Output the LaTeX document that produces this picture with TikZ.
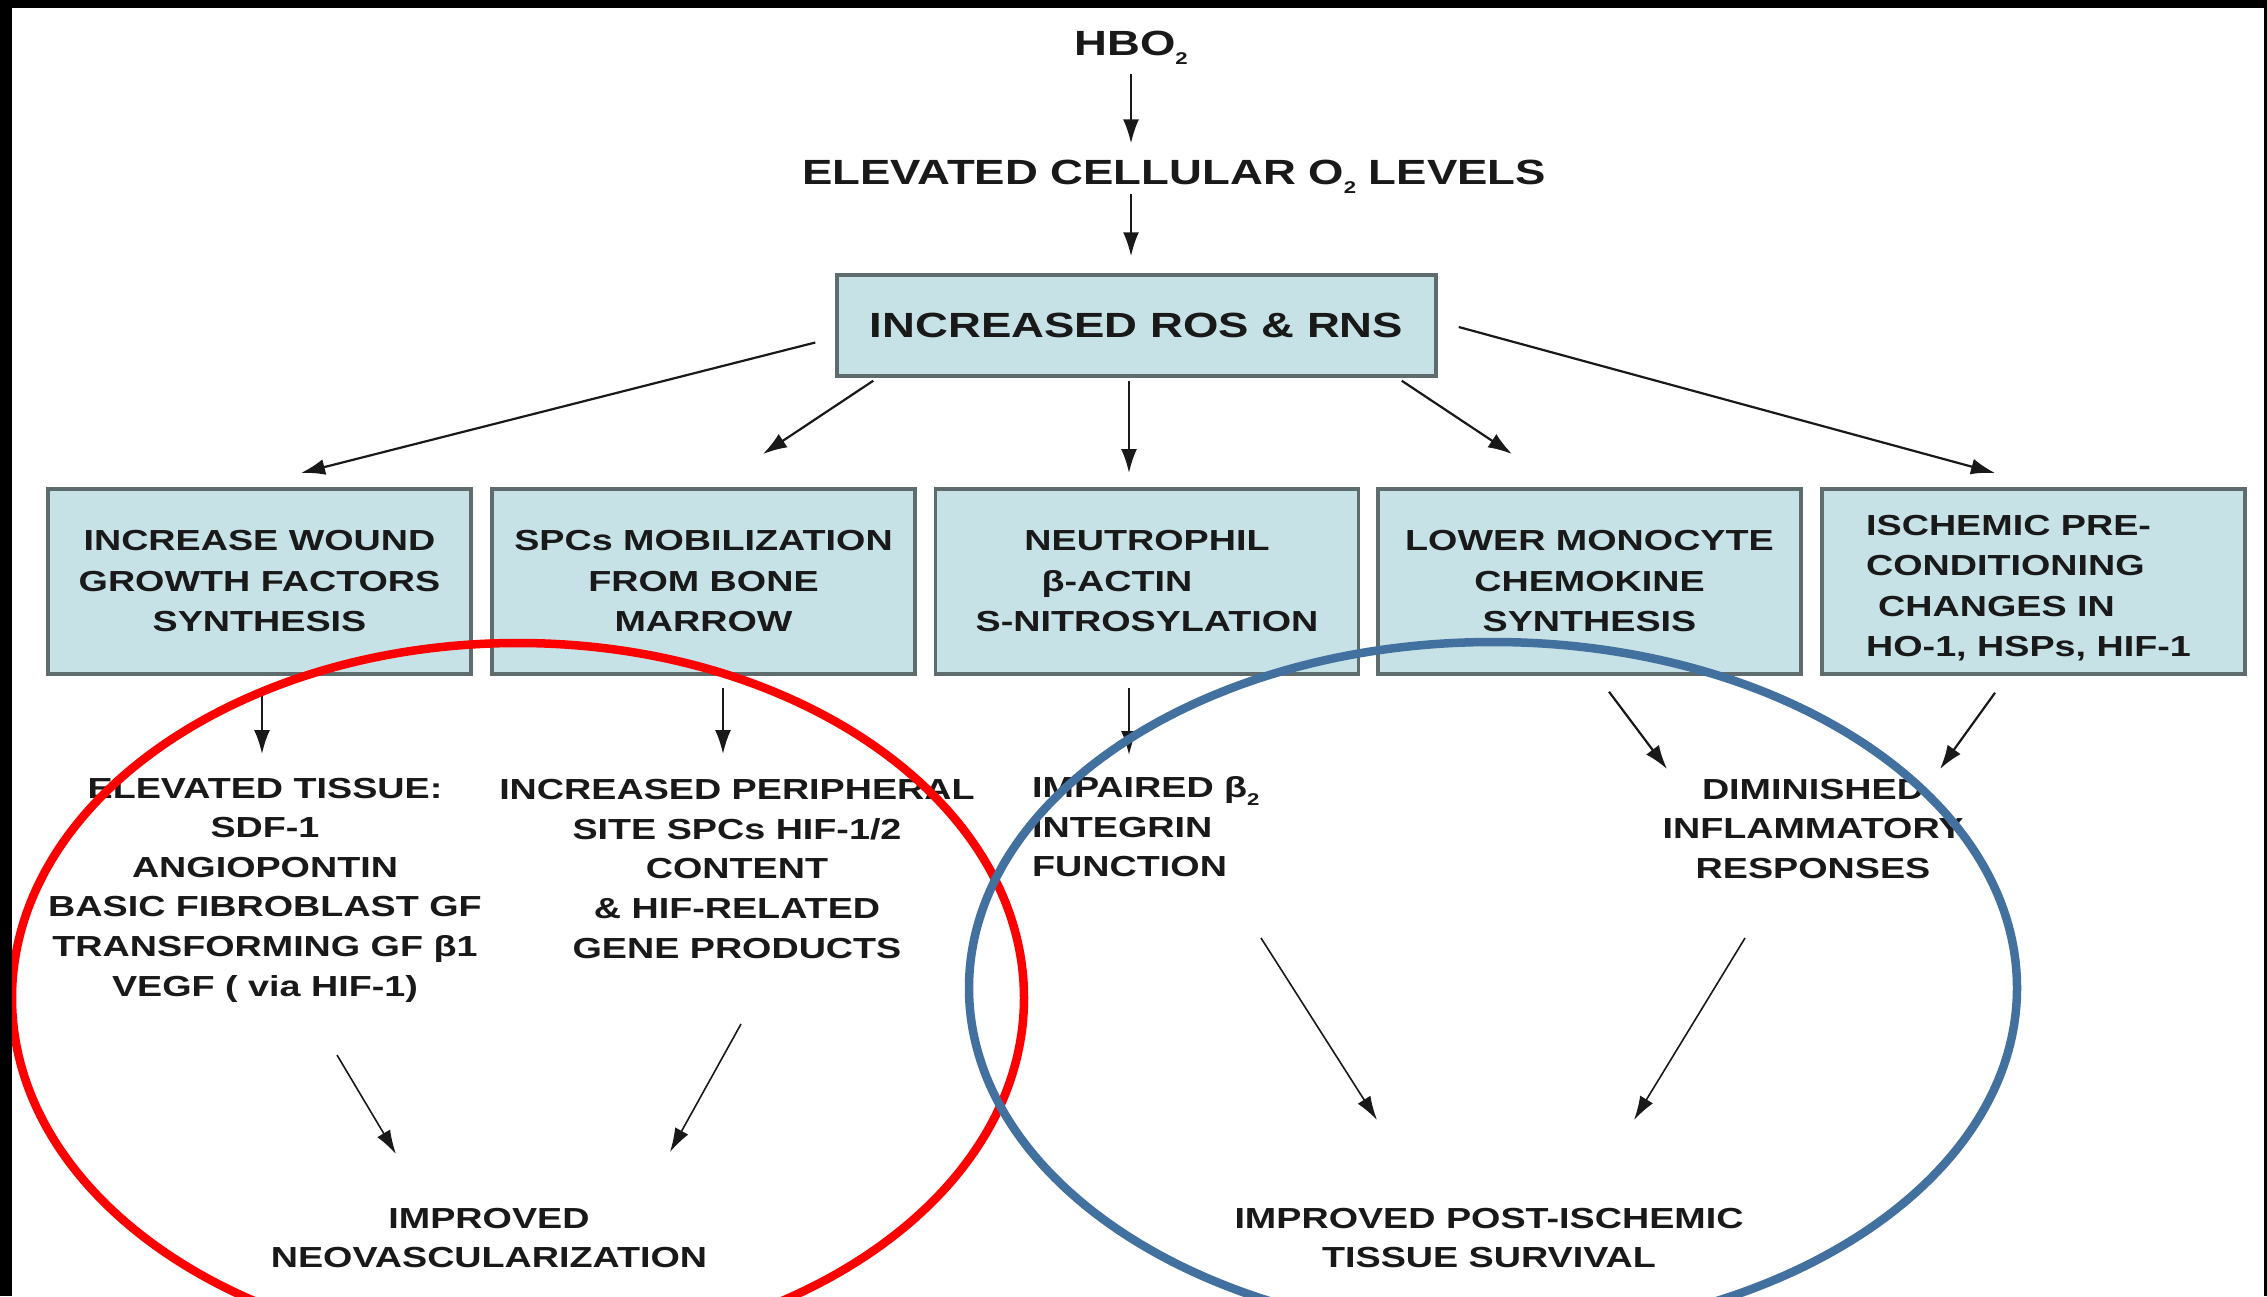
\documentclass[tikz,border=0pt]{standalone}
\usepackage{fontspec}
\setmainfont{Liberation Sans}[FakeStretch=1.3]
\usetikzlibrary{arrows.meta}
\definecolor{boxfill}{RGB}{199,226,231}
\definecolor{boxline}{RGB}{95,108,110}
\definecolor{ringblue}{RGB}{66,113,160}
\definecolor{ringred}{RGB}{255,0,0}
\definecolor{ink}{RGB}{25,25,25}
\newcommand{\mysub}[1]{\raisebox{-0.28em}{\fontsize{17}{17}\selectfont #1}}
\tikzset{
  arr/.style={draw=ink, line width=2.2pt, -{Latex[length=24pt,width=16pt]}},
  thinarr/.style={draw=ink, line width=1.6pt, -{Latex[length=24pt,width=15pt]}},
  box/.style={draw=boxline, line width=3.5pt, fill=boxfill, minimum width=423pt,
    minimum height=185pt, inner sep=0pt, align=center, text=ink,
    font=\bfseries\fontsize{29}{40.5}\selectfont},
  rosbox/.style={draw=boxline, line width=3.5pt, fill=boxfill, minimum width=599pt,
    minimum height=101pt, inner sep=0pt, text=ink,
    font=\bfseries\fontsize{35}{42}\selectfont},
  lbl/.style={inner sep=0pt, align=center, text=ink,
    font=\bfseries\fontsize{29}{39.6}\selectfont},
  title/.style={inner sep=0pt, text=ink, font=\bfseries\fontsize{35}{42}\selectfont},
  ring/.style={line width=8.5pt}
}
\begin{document}
\begin{tikzpicture}[x=1pt,y=-1pt]
\fill[white] (0,0) rectangle (2267,1296);
\useasboundingbox (0,0) rectangle (2267,1296);
\begin{scope}
\clip (0,0) rectangle (2267,1296);
% top chain
\node[title,anchor=base] (hbo) at (1131,55) {HBO\mysub{2}};
\node[title,anchor=base] (elev) at (1174,184) {ELEVATED CELLULAR O\mysub{2} LEVELS};
\node[rosbox] (ros) at (1136.5,325.5) {INCREASED ROS \& RNS};
\draw[arr,shorten <=9pt] (hbo.south) -- ([yshift=16pt]elev.north -| hbo.south);
\draw[arr] (elev.south -| hbo.south) -- ([yshift=17pt]ros.north -| hbo.south);
% five boxes
\node[box] (b1) at (259.5,581.5) {INCREASE WOUND\\GROWTH FACTORS\\SYNTHESIS};
\node[box] (b2) at (703.5,581.5) {SPCs MOBILIZATION\\FROM BONE\\MARROW};
\node[box] (b3) at (1147,581.5) {NEUTROPHIL\\β-ACTIN\rule{60pt}{0pt}\\S-NITROSYLATION};
\node[box] (b4) at (1589.5,581.5) {LOWER MONOCYTE\\CHEMOKINE\\SYNTHESIS};
\node[box,align=left] (b5) at (2033.5,581.5) {\rule{0pt}{33pt}ISCHEMIC PRE-\\CONDITIONING\\\hspace*{12pt}CHANGES IN\\HO-1, HSPs, HIF-1\rule{10pt}{0pt}};
% arrow ends above the boxes
\coordinate (r1) at (301,473);
\coordinate (r2) at (763,454);
\coordinate (r3) at (1129,473);
\coordinate (r4) at (1512,454);
\coordinate (r5) at (1995,473);
\draw[arr] ([shift={(-20pt,-17pt)}]ros.west) -- (r1);
\draw[arr] ([shift={(38pt,-3pt)}]ros.south west) -- (r2);
\draw[arr] ([shift={(-7.5pt,-3pt)}]ros.south) -- (r3);
\draw[arr] ([shift={(-36pt,-3pt)}]ros.south east) -- (r4);
\draw[arr] ([shift={(21pt,-1.5pt)}]ros.east) -- (r5);
% second-level texts
\node[lbl] (t1) at (265,890) {ELEVATED TISSUE:\\SDF-1\\ANGIOPONTIN\\BASIC FIBROBLAST GF\\TRANSFORMING GF β1\\VEGF ( via HIF-1)};
\node[lbl] (t2) at (737,869) {INCREASED PERIPHERAL\\SITE SPCs HIF-1/2\\CONTENT\\\& HIF-RELATED\\GENE PRODUCTS};
\node[lbl,align=left,anchor=west] (t3) at (1032,827) {IMPAIRED β\mysub{2}\\INTEGRIN\\FUNCTION};
\node[lbl] (t4) at (1813,829) {DIMINISHED\\INFLAMMATORY\\RESPONSES};
\coordinate (d1) at (262,754);
\coordinate (d2) at (723,754);
\coordinate (d3) at (1129,755);
\coordinate (d4) at (1667,769);
\coordinate (d5) at (1940,769);
\draw[arr] ([shift={(2.5pt,-12pt)}]b1.south) -- (d1);
\draw[arr] ([shift={(19.5pt,-12pt)}]b2.south) -- (d2);
\draw[arr] ([shift={(-18pt,-12pt)}]b3.south) -- (d3);
\draw[arr] ([shift={(19.5pt,-16pt)}]b4.south) -- (d4);
\draw[arr] ([shift={(-38.5pt,-17pt)}]b5.south) -- (d5);
% outcomes
\node[lbl] (t5) at (489,1238) {IMPROVED\\NEOVASCULARIZATION};
\node[lbl] (t6) at (1489,1238) {IMPROVED POST-ISCHEMIC\\TISSUE SURVIVAL};
\coordinate (f1) at (396,1154);
\coordinate (f2) at (670,1152);
\coordinate (f3) at (1377,1120);
\coordinate (f4) at (1634,1120);
\draw[thinarr] ([shift={(72pt,-165pt)}]t1.center) -- (f1);
\draw[thinarr] ([shift={(4pt,-155pt)}]t2.center) -- (f2);
\draw[thinarr] ([shift={(229pt,-111pt)}]t3.west) -- (f3);
\draw[thinarr] ([shift={(-68pt,-109pt)}]t4.center) -- (f4);
% rings
\draw[ring,draw=ringred] (518,998) ellipse [x radius=506pt, y radius=355pt];
\draw[ring,draw=ringblue] (1493,988) ellipse [x radius=524pt, y radius=346pt];
\end{scope}
% black frame edges
\fill[black] (0,0) rectangle (2267,8);
\fill[black] (0,0) rectangle (12,1296);
\fill[black] (2264,0) rectangle (2267,1296);
\end{tikzpicture}
\end{document}
